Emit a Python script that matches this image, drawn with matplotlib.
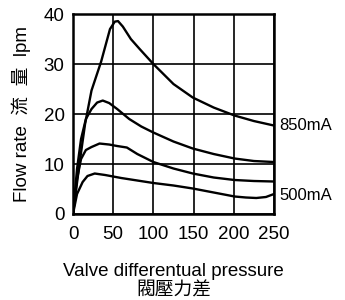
import matplotlib.pyplot as plt

plt.rcParams['font.family'] = ['Liberation Sans', 'Noto Sans CJK TC']

# (differential pressure, flow lpm)
p_850 = [0, 8, 15, 23, 35, 46, 52, 56, 62, 72, 83, 100, 125, 149, 175, 201, 225, 250]
q_850 = [0, 10, 18, 24.7, 30.5, 37, 38.5, 38.6, 37.5, 35, 33, 30, 26, 23.3, 21.3, 19.7, 18.6, 17.7]

p_2 = [0, 5, 10, 16, 23, 30, 37, 45, 55, 70, 85, 100, 125, 149, 175, 201, 225, 250]
q_2 = [0, 9, 15, 19, 21, 22.3, 22.7, 22.2, 21, 19, 17.5, 16.3, 14.5, 13.1, 12, 11.1, 10.6, 10.4]

p_3 = [0, 5, 10, 16, 23, 33, 45, 55, 67, 80, 100, 125, 149, 175, 201, 225, 250]
q_3 = [0, 7, 11, 12.8, 13.4, 14.1, 13.9, 13.6, 13.3, 12, 10.4, 9.1, 8.1, 7.3, 6.8, 6.6, 6.5]

p_500 = [0, 5, 12, 18, 27, 40, 60, 80, 100, 125, 149, 175, 201, 215, 228, 240, 250]
q_500 = [0, 4, 6.4, 7.6, 8.1, 7.8, 7.2, 6.7, 6.2, 5.7, 5.1, 4.3, 3.5, 3.3, 3.2, 3.4, 4.0]

curves = [(p_850, q_850), (p_2, q_2), (p_3, q_3), (p_500, q_500)]

fig = plt.figure(figsize=(3.45, 3.0), dpi=100)
ax = fig.add_axes([0.2116, 0.2867, 0.5826, 0.6663])

for p, q in curves:
    ax.plot(p, q, color='black', lw=1.7, solid_joinstyle='round')

ax.set_xlim(0, 250)
ax.set_ylim(0, 40)
ax.set_xticks([0, 50, 100, 150, 200, 250])
ax.set_yticks([0, 10, 20, 30, 40])
ax.grid(True, color='black', lw=1.2)
ax.tick_params(length=0, labelsize=13.5)
ax.tick_params(axis='y', pad=6)
ax.tick_params(axis='x', pad=9)
for s in ax.spines.values():
    s.set_linewidth(1.8)

ax.text(257, 17.7, '850mA', fontsize=12, va='center', ha='left')
ax.text(257, 3.8, '500mA', fontsize=12, va='center', ha='left')

ax.set_ylabel('Flow rate  流  量  lpm', fontsize=13.5, labelpad=9)
ax.set_xlabel('Valve differentual pressure\n閥壓力差', fontsize=13.5, labelpad=14,
              linespacing=1.15)

fig.savefig('out.png', dpi=100)
